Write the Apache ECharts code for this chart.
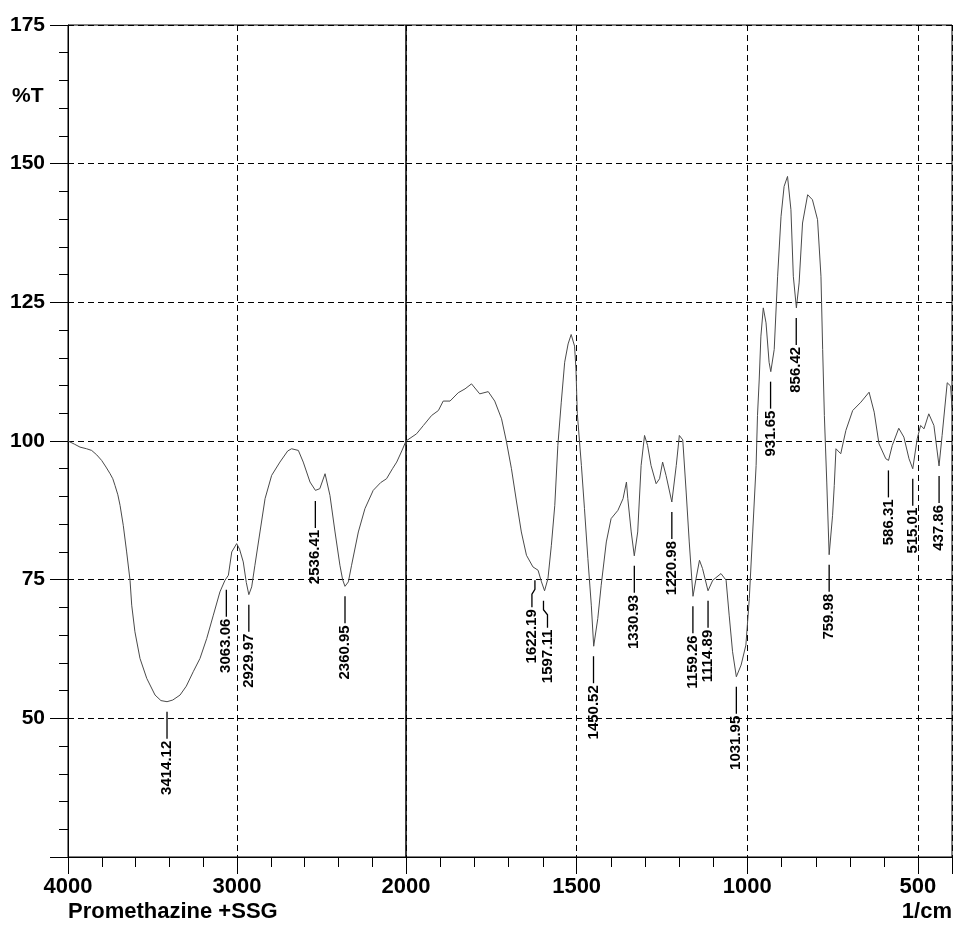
<!DOCTYPE html>
<html>
<head>
<meta charset="utf-8">
<script src="https://cdn.jsdelivr.net/npm/echarts@6/dist/echarts.min.js"></script>
<style>
  html, body { margin: 0; padding: 0; background: #fff; }
  #chart { width: 956px; height: 927px; }
</style>
</head>
<body>
<div id="chart"></div>
<script>
// spectrum (1/cm, %T)
const wavenumbers = [
  4000, 3960, 3929, 3890, 3860, 3830, 3801, 3775, 3751, 3735, 3722, 3705, 3692, 3673, 3653, 3633,
  3623, 3604, 3574, 3534, 3485, 3450, 3414, 3380, 3337, 3300, 3259, 3219, 3179, 3140, 3101, 3071,
  3051, 3031, 3002, 2985, 2963, 2945, 2930, 2913, 2894, 2864, 2834, 2795, 2746, 2700, 2677, 2637,
  2608, 2568, 2536, 2510, 2499, 2479, 2469, 2450, 2420, 2391, 2375, 2361, 2341, 2322, 2282, 2243,
  2194, 2150, 2115, 2080, 2055, 2025, 2000,
  1969, 1949, 1925, 1905, 1891, 1871, 1847, 1827, 1808, 1784, 1759, 1740, 1720, 1706, 1691, 1676,
  1662, 1647, 1628, 1613, 1603, 1594, 1584, 1574, 1564, 1555, 1545, 1535, 1525, 1516, 1506, 1502,
  1498, 1486, 1477, 1467, 1457, 1450, 1438, 1428, 1413, 1399, 1379, 1364, 1354, 1350, 1340, 1331,
  1321, 1311, 1301, 1292, 1282, 1267, 1257, 1248, 1238, 1221, 1208, 1199, 1189, 1179, 1170, 1159,
  1150, 1140, 1131, 1115, 1101, 1077, 1062, 1053, 1043, 1032, 1018, 1004, 994, 984, 974, 970,
  965, 960, 953, 945, 936, 931, 921, 911, 901, 892, 882, 872, 865, 856, 848, 838,
  823, 809, 794, 784, 779, 774, 767, 760, 750, 745, 740, 735, 726, 711, 691, 667,
  643, 628, 614, 594, 586, 575, 556, 541, 526, 515, 502, 492, 482, 468, 453, 438,
  429, 414, 404, 400
];
const transmittance = [
  100, 99.4, 98.9, 98.6, 98.3, 97.5, 96.5, 95.3, 94.1, 93.2, 92, 90.3, 88.4, 84.8, 80, 74.9,
  70.4, 65.6, 60.8, 57.2, 54.2, 53.2, 53, 53.3, 54.2, 55.8, 58.4, 60.8, 64.4, 68.6, 72.8, 74.9,
  75.8, 80, 81.5, 80.5, 78.2, 74.5, 72.3, 73.7, 77.6, 83.6, 89.6, 93.8, 96.2, 98.2, 98.6, 98.3,
  96.2, 92.6, 91.1, 91.4, 91.7, 94.1, 93.8, 90.2, 83.6, 77.6, 75, 73.8, 74.6, 77.6, 83.6, 87.8,
  91.1, 92.5, 93.2, 95, 96.2, 98.2, 100,
  101.3, 102.8, 104.6, 105.5, 107.2, 107.2, 108.7, 109.4, 110.3, 108.5, 108.9, 107.2, 104, 100, 95, 89,
  83.6, 79.4, 77.3, 76.7, 74.6, 73, 75.2, 81.2, 88.4, 99.2, 107, 114.2, 117.5, 119.2, 117.1, 113,
  105, 95.6, 87.8, 78.8, 70.4, 63, 68, 74, 81.8, 86, 87.5, 89.6, 92.6, 89.6, 83.6, 79.3,
  83.6, 95.6, 101, 99.2, 95.6, 92.3, 93.2, 96.2, 93.8, 89, 95.6, 101, 100.2, 90.8, 81.8, 72,
  75.2, 78.5, 77, 73, 74.9, 76.1, 74.9, 68.6, 62, 57.5, 59.6, 63.2, 71.6, 83.6, 95.6, 104.6,
  111, 118.9, 124, 121.3, 114.2, 112.5, 116.5, 129.7, 140.5, 145.9, 147.7, 141.7, 129.7, 124, 128.5, 139.3,
  144.4, 143.5, 139.9, 129.7, 116.5, 104.6, 92.6, 79.5, 86.6, 92, 98.6, 98.6, 97.7, 101.9, 105.5, 107,
  108.8, 105.2, 99.5, 96.8, 96.5, 99.2, 102.3, 100.7, 96.8, 95, 100.4, 102.8, 102.2, 104.9, 102.8, 95.5,
  101, 110.5, 109.9, 106
];

// labelled peaks
const peakWavenumbers = [3414.12, 3063.06, 2929.97, 2536.41, 2360.95, 1622.19, 1597.11, 1450.52, 1330.93,
  1220.98, 1159.26, 1114.89, 1031.95, 931.65, 856.42, 759.98, 586.31, 515.01, 437.86];
const peakValues = [53, 75, 72.3, 91, 73.8, 76.7, 73, 63, 79.3,
  89, 72, 73, 57.5, 112.5, 124, 79.5, 96.5, 95, 95.5];

const yTicks = [25, 50, 75, 100, 125, 150, 175];
const rightTicks = [400, 500, 1000, 1500, 2000];
const rightLabels = [500, 1000, 1500];
const rightMinorTicks = [600, 700, 800, 900, 1100, 1200, 1300, 1400, 1600, 1700, 1800, 1900];

const leftData = [], rightData = [];
wavenumbers.forEach((w, i) => {
  if (w >= 2000) leftData.push([w, transmittance[i]]);
  if (w <= 2000) rightData.push([w, transmittance[i]]);
});
const leftPeaks = [], rightPeaks = [];
peakWavenumbers.forEach((w, i) => {
  (w > 2000 ? leftPeaks : rightPeaks).push([w, peakValues[i]]);
});

const chart = echarts.init(document.getElementById("chart"));

const FONT = '"Liberation Sans", Arial, sans-serif';
const dash = { color: "#000", width: 1, type: [6, 4] };
const black = { color: "#000", width: 1 };

// nudge the two crowded labels apart, like the original print
const shifts = { "1622.19": -3, "1597.11": 4 };

function peakItem(params, api) {
  const w = api.value(0);
  const p = api.coord([w, api.value(1)]);
  const key = w.toFixed(2);
  const dx = shifts[key] || 0;
  const x0 = p[0], y0 = p[1] + 10;
  return {
    type: "group",
    children: [
      {
        type: "polyline",
        shape: { points: [[x0, y0], [x0, y0 + 9], [x0 + dx, y0 + 14], [x0 + dx, y0 + 27]] },
        style: { stroke: "#000", lineWidth: 1.3, fill: null }
      },
      {
        type: "text",
        x: x0 + dx,
        y: y0 + 29,
        rotation: Math.PI / 2,
        style: {
          text: key,
          fill: "#000",
          font: "bold 15px " + FONT,
          align: "right",
          verticalAlign: "middle"
        }
      }
    ]
  };
}

// short ticks every 100 under the right part, hung from the bottom of the axis
function minorTickItem(params, api) {
  const p = api.coord([api.value(0), api.value(1)]);
  const x = Math.round(p[0]) + 0.5;
  return {
    type: "group",
    children: [
      {
        type: "polyline",
        shape: { points: [[x, p[1]], [x, p[1] + 10]] },
        style: { stroke: "#000", lineWidth: 1, fill: null }
      }
    ]
  };
}

const plain = v => String(v);

const yAxisBase = {
  type: "value",
  min: 25,
  max: 175,
  interval: 25,
  axisLine: { show: true, lineStyle: black },
  splitLine: { show: true, lineStyle: dash }
};

const gridBase = { top: 25, bottom: 70, outerBoundsMode: "none" };

const options = {
  animation: false,
  backgroundColor: "#fff",
  grid: [
    Object.assign({ left: 68, width: 338, show: true, borderColor: "#000", borderWidth: 1 }, gridBase),
    Object.assign({ left: 406, width: 546, show: true, borderColor: "#000", borderWidth: 1 }, gridBase)
  ],
  xAxis: [
    {
      type: "value", gridIndex: 0, position: "bottom", min: 2000, max: 4000, interval: 1000, inverse: true,
      axisLine: { lineStyle: black },
      axisTick: { length: 17, lineStyle: black },
      minorTick: { show: true, splitNumber: 5, length: 10, lineStyle: black },
      axisLabel: { margin: 19, color: "#000", fontSize: 22, fontWeight: "bold", fontFamily: FONT, formatter: plain },
      splitLine: { show: true, lineStyle: dash }
    },
    {
      type: "value", gridIndex: 1, position: "bottom", min: 400, max: 2000, interval: 100, inverse: true,
      axisLine: { show: true, onZero: false, lineStyle: black },
      axisTick: { show: true, length: 17, lineStyle: black, customValues: rightTicks },
      axisLabel: { margin: 19, color: "#000", fontSize: 22, fontWeight: "bold", fontFamily: FONT, customValues: rightLabels, formatter: plain },
      splitLine: { show: true, lineStyle: dash }
    }
  ],
  yAxis: [
    Object.assign({}, yAxisBase, {
      gridIndex: 0,
      axisTick: { length: 18, lineStyle: black },
      minorTick: { show: true, splitNumber: 5, length: 9, lineStyle: black },
      axisLabel: {
        margin: 23, color: "#000", fontSize: 21, fontWeight: "bold", fontFamily: FONT,
        formatter: v => (yTicks.indexOf(v) > 0 ? String(v) : "")
      }
    }),
    Object.assign({}, yAxisBase, {
      gridIndex: 1,
      axisLine: { show: false },
      axisTick: { show: false },
      axisLabel: { show: false }
    })
  ],
  graphic: [
    { type: "text", left: 12, top: 86, style: { text: "%T", fill: "#000", font: "bold 21px " + FONT } },
    { type: "text", left: 68, top: 901, style: { text: "Promethazine +SSG", fill: "#000", font: "bold 22px " + FONT } },
    { type: "text", right: 4, top: 901, style: { text: "1/cm", fill: "#000", font: "bold 22px " + FONT } }
  ],
  series: [
    {
      type: "line", xAxisIndex: 0, yAxisIndex: 0, data: leftData,
      showSymbol: false, silent: true,
      lineStyle: { color: "#4a4a4a", width: 1 }
    },
    {
      type: "line", xAxisIndex: 1, yAxisIndex: 1, data: rightData,
      showSymbol: false, silent: true,
      lineStyle: { color: "#4a4a4a", width: 1 }
    },
    { type: "custom", xAxisIndex: 0, yAxisIndex: 0, data: leftPeaks, renderItem: peakItem, clip: false, silent: true },
    { type: "custom", xAxisIndex: 1, yAxisIndex: 1, data: rightPeaks, renderItem: peakItem, clip: false, silent: true },
    {
      type: "custom", xAxisIndex: 1, yAxisIndex: 1, clip: false, silent: true,
      data: rightMinorTicks.map(w => [w, 25]),
      renderItem: minorTickItem
    }
  ]
};

chart.setOption(options);
</script>
</body>
</html>
